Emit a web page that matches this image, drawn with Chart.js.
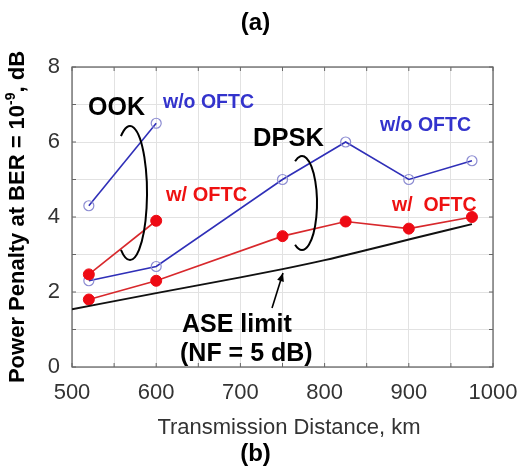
<!DOCTYPE html>
<html>
<head>
<meta charset="utf-8">
<script src="https://cdn.jsdelivr.net/npm/chart.js@4/dist/chart.umd.min.js"></script>
<style>
  html, body { margin: 0; padding: 0; background: #fff; }
  #wrap { width: 527px; height: 466px; position: relative; }
</style>
</head>
<body>
<div id="wrap"><canvas id="c"></canvas></div>
<script>
// ---- data ----
const ookDist = [520, 600];
const ookWithout = [4.3, 6.5];
const ookWith = [2.47, 3.9];
const dpskDist = [520, 600, 750, 825, 900, 975];
const dpskWithout = [2.3, 2.68, 5.0, 6.0, 5.0, 5.5];
const dpskWith = [1.8, 2.3, 3.49, 3.88, 3.69, 4.0];
const aseDist = [500, 600, 700, 750, 800, 850, 900, 975];
const aseLimit = [1.54, 1.97, 2.39, 2.61, 2.85, 3.12, 3.40, 3.81];
const xTickLabels = [500, 600, 700, 800, 900, 1000];
const yTickLabels = [0, 2, 4, 6, 8];

const FONT = '"Liberation Sans", Arial, Helvetica, sans-serif';
const BLUE = '#2f2fb8';
const BLUE_MK = '#8c8cd2';
const RED = '#d8282c';
const RED_MK = '#ee0a14';

function pts(xs, ys) { return xs.map((x, i) => ({ x: x, y: ys[i] })); }

const blueStyle = { showLine: true, borderColor: BLUE, borderWidth: 1.6, pointRadius: 5,
  pointBorderColor: BLUE_MK, pointBackgroundColor: 'rgba(255,255,255,0)', pointBorderWidth: 1.2 };
const redStyle = { showLine: true, borderColor: RED, borderWidth: 1.6, pointRadius: 5.5,
  pointBorderColor: RED_MK, pointBackgroundColor: RED_MK, pointBorderWidth: 1 };

const annot = {
  id: 'annot',
  beforeDatasetsDraw(chart) {
    const { ctx, chartArea: a, scales } = chart;
    ctx.save();
    ctx.strokeStyle = '#5a5a5a';
    ctx.lineWidth = 1.2;
    ctx.strokeRect(a.left, a.top, a.right - a.left, a.bottom - a.top);
    ctx.lineWidth = 1;
    ctx.strokeStyle = '#666';
    for (let v = 500; v <= 1000; v += 50) {
      const x = scales.x.getPixelForValue(v);
      ctx.beginPath();
      ctx.moveTo(x, a.bottom); ctx.lineTo(x, a.bottom - 4);
      ctx.moveTo(x, a.top); ctx.lineTo(x, a.top + 4);
      ctx.stroke();
    }
    for (let v = 0; v <= 8; v += 1) {
      const y = scales.y.getPixelForValue(v);
      ctx.beginPath();
      ctx.moveTo(a.left, y); ctx.lineTo(a.left + 4, y);
      ctx.moveTo(a.right, y); ctx.lineTo(a.right - 4, y);
      ctx.stroke();
    }
    ctx.restore();
  },
  afterDatasetsDraw(chart) {
    const { ctx } = chart;
    ctx.save();
    ctx.textBaseline = 'alphabetic';
    ctx.textAlign = 'left';
    function txt(s, x, y, size, color, bold) {
      ctx.font = (bold ? 'bold ' : '') + size + 'px ' + FONT;
      ctx.fillStyle = color;
      ctx.fillText(s, x, y);
    }
    txt('OOK', 88, 115, 25, '#000', true);
    txt('w/o OFTC', 163, 108, 19.5, '#3333cc', true);
    txt('w/ OFTC', 166, 201, 20, '#ee1111', true);
    txt('DPSK', 253, 146, 25.5, '#000', true);
    txt('w/o OFTC', 380, 131, 19.5, '#3333cc', true);
    txt('w/  OFTC', 392, 211, 19.5, '#ee1111', true);
    txt('ASE limit', 182, 332, 25, '#000', true);
    txt('(NF = 5 dB)', 180, 361, 25, '#000', true);

    ctx.strokeStyle = '#000';
    ctx.lineWidth = 2;
    ctx.beginPath();
    ctx.ellipse(130, 193, 17, 67, 0, -2.13, 2.13, false);
    ctx.stroke();
    ctx.beginPath();
    ctx.ellipse(302, 203, 15, 47, 0, -2.05, 2.05, false);
    ctx.stroke();

    const x1 = 272, y1 = 308, x2 = 283, y2 = 273;
    ctx.lineWidth = 1.6;
    ctx.beginPath(); ctx.moveTo(x1, y1); ctx.lineTo(x2, y2); ctx.stroke();
    const ang = Math.atan2(y2 - y1, x2 - x1);
    ctx.fillStyle = '#000';
    ctx.beginPath();
    ctx.moveTo(x2, y2);
    ctx.lineTo(x2 - 9 * Math.cos(ang - 0.4), y2 - 9 * Math.sin(ang - 0.4));
    ctx.lineTo(x2 - 9 * Math.cos(ang + 0.4), y2 - 9 * Math.sin(ang + 0.4));
    ctx.closePath(); ctx.fill();

    ctx.textAlign = 'center';
    txt('(a)', 255.5, 30, 24, '#000', true);
    txt('(b)', 255.5, 461, 24, '#000', true);
    txt('Transmission Distance, km', 289, 434, 22, '#333', false);

    ctx.translate(24, 217);
    ctx.rotate(-Math.PI / 2);
    ctx.textAlign = 'left';
    const big = 'bold 22px ' + FONT, small = 'bold 14px ' + FONT;
    const p1 = 'Power Penalty at BER = 10', p2 = '-9', p3 = ', dB';
    ctx.font = big; const w1 = ctx.measureText(p1).width, w3 = ctx.measureText(p3).width;
    ctx.font = small; const w2 = ctx.measureText(p2).width;
    let x0 = -(w1 + w2 + w3) / 2;
    ctx.fillStyle = '#000';
    ctx.font = big; ctx.fillText(p1, x0, 0); x0 += w1;
    ctx.font = small; ctx.fillText(p2, x0, -9); x0 += w2;
    ctx.font = big; ctx.fillText(p3, x0, 0);
    ctx.restore();
  }
};

new Chart(document.getElementById('c'), {
  type: 'scatter',
  data: {
    datasets: [
      { label: 'ASE limit', data: pts(aseDist, aseLimit), showLine: true,
        borderColor: '#111', borderWidth: 2, pointRadius: 0, cubicInterpolationMode: 'monotone' },
      Object.assign({ label: 'OOK w/o OFTC', data: pts(ookDist, ookWithout) }, blueStyle),
      Object.assign({ label: 'OOK w/ OFTC', data: pts(ookDist, ookWith) }, redStyle),
      Object.assign({ label: 'DPSK w/o OFTC', data: pts(dpskDist, dpskWithout) }, blueStyle),
      Object.assign({ label: 'DPSK w/ OFTC', data: pts(dpskDist, dpskWith) }, redStyle)
    ]
  },
  options: {
    responsive: true,
    maintainAspectRatio: false,
    animation: false,
    layout: { padding: { top: 67, right: 34, left: 0, bottom: 0 } },
    plugins: { legend: { display: false }, tooltip: { enabled: false } },
    scales: {
      x: {
        type: 'linear', min: 500, max: 1000,
        afterFit(s) { s.height = 99; s.paddingLeft = 0; s.paddingRight = 0; },
        grid: { color: '#e2e2e2', lineWidth: 1, drawTicks: false },
        border: { display: false },
        ticks: {
          stepSize: 50, padding: 13, color: '#333', maxRotation: 0, autoSkip: false,
          font: { family: FONT, size: 22 },
          callback: v => (xTickLabels.includes(v) ? String(v) : '')
        }
      },
      y: {
        type: 'linear', min: 0, max: 8,
        afterFit(s) { s.width = 72; s.paddingTop = 0; s.paddingBottom = 0; },
        grid: { color: '#e2e2e2', lineWidth: 1, drawTicks: false },
        border: { display: false },
        ticks: {
          stepSize: 1, padding: 12, color: '#333', autoSkip: false,
          font: { family: FONT, size: 22 },
          callback: v => (yTickLabels.includes(v) ? String(v) : '')
        }
      }
    }
  },
  plugins: [annot]
});
</script>
</body>
</html>
